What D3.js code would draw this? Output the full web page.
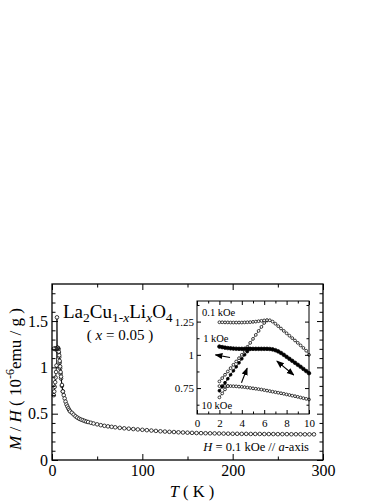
<!DOCTYPE html>
<html>
<head>
<meta charset="utf-8">
<script src="https://cdn.jsdelivr.net/npm/d3@7"></script>
<style>
  body { margin: 0; background: #fff; }
  svg text { font-family: "Liberation Serif", "DejaVu Serif", serif; fill: #000; }
</style>
</head>
<body>
<div id="chart"></div>
<script>
// main panel, H = 0.1 kOe, ZFC warming
var mainT = [2, 2.5, 3, 3.5, 4, 4.5, 5, 5.5, 6, 6.5, 7, 7.5, 8, 8.5, 9, 9.5, 10, 11, 12, 13, 14, 15, 16, 17, 18, 19, 20,
  22, 24, 26, 28, 30, 32, 34, 36, 38, 40, 43, 46, 50, 54, 58, 62, 66, 70, 75, 80, 85, 90, 95, 100, 105, 110, 115, 120,
  125, 130, 135, 140, 145, 150, 155, 160, 165, 170, 175, 180, 185, 190, 195, 200, 205, 210, 215, 220, 225, 230, 235,
  240, 245, 250, 255, 260, 265, 270, 275, 280, 285, 290];
var mainMH = [0.70, 0.74, 0.79, 0.84, 0.89, 0.95, 1.02, 1.54, 1.18, 1.21, 1.20, 1.16, 1.11, 1.05, 0.99, 0.93, 0.88, 0.80,
  0.74, 0.70, 0.665, 0.63, 0.60, 0.578, 0.558, 0.541, 0.525,
  0.51, 0.49, 0.472, 0.458, 0.446, 0.437, 0.43, 0.422, 0.415, 0.41, 0.402, 0.394, 0.385, 0.376, 0.369, 0.363, 0.358,
  0.353, 0.347, 0.342, 0.338, 0.334, 0.330, 0.326, 0.322, 0.318, 0.314, 0.31, 0.307, 0.304, 0.302, 0.299, 0.297,
  0.295, 0.293, 0.291, 0.290, 0.289, 0.288, 0.287, 0.286, 0.285, 0.284, 0.283, 0.283, 0.282, 0.282, 0.281, 0.281,
  0.281, 0.280, 0.280, 0.280, 0.279, 0.279, 0.279, 0.278, 0.278, 0.278, 0.277, 0.277, 0.277];
// main panel, field cooled branch below 12 K
var mainFcT = [12, 11, 10, 9.5, 9, 8.5, 8, 7.5, 7, 6.5, 6, 5.5, 5, 4.5, 4, 3.5, 3, 2.5, 2];
var mainFcMH = [0.74, 0.81, 0.90, 0.95, 1.01, 1.07, 1.13, 1.17, 1.20, 1.21, 1.21, 1.20, 1.20, 1.20, 1.20, 1.20, 1.20, 1.20, 1.20];

// inset temperatures
var insetT = [2, 2.25, 2.5, 2.75, 3, 3.25, 3.5, 3.75, 4, 4.25, 4.5, 4.75, 5, 5.25, 5.5, 5.75, 6, 6.25, 6.5, 6.75,
  7, 7.25, 7.5, 7.75, 8, 8.25, 8.5, 8.75, 9, 9.25, 9.5, 9.75, 10];
var fc01 = [1.245, 1.245, 1.244, 1.244, 1.243, 1.243, 1.243, 1.243, 1.243, 1.244, 1.245, 1.246, 1.248, 1.25, 1.253,
  1.256, 1.259, 1.261, 1.26, 1.25, 1.234, 1.216, 1.198, 1.18, 1.162, 1.144, 1.126, 1.108, 1.09, 1.071, 1.052, 1.031, 1.0];
var fc1 = [1.062, 1.058, 1.054, 1.051, 1.049, 1.047, 1.046, 1.045, 1.045, 1.045, 1.045, 1.045, 1.045, 1.045, 1.045,
  1.045, 1.045, 1.045, 1.044, 1.041, 1.035, 1.026, 1.014, 1.0, 0.985, 0.97, 0.955, 0.94, 0.925, 0.91, 0.894, 0.878, 0.862];
var fc10 = [0.765, 0.766, 0.766, 0.766, 0.765, 0.764, 0.763, 0.761, 0.759, 0.757, 0.754, 0.751, 0.748, 0.745, 0.742,
  0.739, 0.735, 0.731, 0.727, 0.723, 0.719, 0.715, 0.711, 0.707, 0.702, 0.698, 0.693, 0.689, 0.684, 0.679, 0.674, 0.669, 0.664];
var zfc01T = [2, 2.25, 2.5, 2.75, 3, 3.25, 3.5, 3.75, 4, 4.25, 4.5, 4.75, 5, 5.25, 5.5, 5.75, 6, 6.25];
var zfc01 = [0.80, 0.825, 0.85, 0.875, 0.90, 0.925, 0.95, 0.975, 1.0, 1.03, 1.06, 1.09, 1.12, 1.15, 1.18, 1.21, 1.24, 1.258];
var zfc1T = [2, 2.25, 2.5, 2.75, 3, 3.25, 3.5, 3.75, 4, 4.25, 4.5, 4.75];
var zfc1 = [0.73, 0.76, 0.79, 0.82, 0.85, 0.88, 0.91, 0.94, 0.97, 1.0, 1.025, 1.045];
var zfc10T = [2, 2.25, 2.5, 2.75];
var zfc10 = [0.68, 0.71, 0.74, 0.765];

var fieldLabels = ["0.1 kOe", "1 kOe", "10 kOe"];
var fieldLabelPos = [[0.45, 1.29], [0.55, 1.095], [0.4, 0.595]];   // inset data coords
// arrows in inset data coords: [T1, MH1, T2, MH2, double?]
var insetArrows = [[2.95, 0.98, 1.65, 1.0, 0], [3.97, 0.79, 4.48, 0.9, 0], [7.13, 0.953, 8.64, 0.848, 1]];

var mainXTicks = [0, 100, 200, 300];
var mainXMinor = [50, 150, 250];
var mainYTicks = [0, 0.5, 1, 1.5];
var mainYMinor = [0.1, 0.2, 0.3, 0.4, 0.6, 0.7, 0.8, 0.9, 1.1, 1.2, 1.3, 1.4, 1.6, 1.7, 1.8];
var insetXTicks = [0, 2, 4, 6, 8, 10];
var insetXMinor = [1, 3, 5, 7, 9];
var insetYTicks = [0.75, 1, 1.25];
var insetYMinor = [0.625, 0.875, 1.125, 1.375];

var myChart = {};
(function(context) {

  var svg;

  function zip(a, b) {
    return a.map(function(v, i) { return [v, b[i]]; });
  }

  function styleAxis(g, size) {
    g.attr("font-family", null).attr("font-size", size);
    g.select(".domain").remove();
    g.selectAll("line").attr("stroke", "#000").attr("stroke-width", 1);
  }

  function frameAxes(x, y, major, minor, majY, minY, lenMaj, lenMin, fsize, labels, fmtY) {
    var x0 = x.range()[0], x1 = x.range()[1], y0 = y.range()[0], y1 = y.range()[1];
    // bottom
    svg.append("g").attr("transform", "translate(0," + y0 + ")")
      .call(d3.axisBottom(x).tickValues(major).tickSize(-lenMaj).tickPadding(labels.xpad))
      .call(styleAxis, fsize);
    svg.append("g").attr("transform", "translate(0," + y0 + ")")
      .call(d3.axisBottom(x).tickValues(minor).tickSize(-lenMin).tickFormat(""))
      .call(styleAxis, fsize);
    // top
    svg.append("g").attr("transform", "translate(0," + y1 + ")")
      .call(d3.axisTop(x).tickValues(major).tickSize(-lenMaj).tickFormat(""))
      .call(styleAxis, fsize);
    svg.append("g").attr("transform", "translate(0," + y1 + ")")
      .call(d3.axisTop(x).tickValues(minor).tickSize(-lenMin).tickFormat(""))
      .call(styleAxis, fsize);
    // left
    svg.append("g").attr("transform", "translate(" + x0 + ",0)")
      .call(d3.axisLeft(y).tickValues(majY).tickSize(-lenMaj).tickPadding(labels.ypad).tickFormat(fmtY))
      .call(styleAxis, fsize);
    svg.append("g").attr("transform", "translate(" + x0 + ",0)")
      .call(d3.axisLeft(y).tickValues(minY).tickSize(-lenMin).tickFormat(""))
      .call(styleAxis, fsize);
    // right
    svg.append("g").attr("transform", "translate(" + x1 + ",0)")
      .call(d3.axisRight(y).tickValues(majY).tickSize(-lenMaj).tickFormat(""))
      .call(styleAxis, fsize);
    svg.append("g").attr("transform", "translate(" + x1 + ",0)")
      .call(d3.axisRight(y).tickValues(minY).tickSize(-lenMin).tickFormat(""))
      .call(styleAxis, fsize);
  }

  function drawSeries(x, y, pts, r, filled, lw) {
    var line = d3.line().x(function(d) { return x(d[0]); }).y(function(d) { return y(d[1]); });
    svg.append("path").datum(pts)
      .attr("d", line).attr("fill", "none").attr("stroke", "#000").attr("stroke-width", lw);
    svg.append("g").selectAll("circle").data(pts).enter().append("circle")
      .attr("cx", function(d) { return x(d[0]); })
      .attr("cy", function(d) { return y(d[1]); })
      .attr("r", r)
      .attr("fill", filled ? "#000" : "#fff")
      .attr("stroke", "#000").attr("stroke-width", 0.75);
  }

  context.draw = function(name) {

    svg = d3.select(name).append("svg").attr("width", 388).attr("height", 502)
      .attr("font-family", "Liberation Serif, serif");

    var x = d3.scaleLinear().domain([0, 300]).range([52, 323]);
    var y = d3.scaleLinear().domain([0, 1.9]).range([460, 284]);

    drawSeries(x, y, zip(mainT, mainMH), 1.8, false, 0.8);
    drawSeries(x, y, zip(mainFcT, mainFcMH), 1.8, false, 0.8);

    frameAxes(x, y, mainXTicks, mainXMinor, mainYTicks, mainYMinor, 6, 3.5, 16,
      { xpad: 5, ypad: 4 }, function(d) { return d3.format("")(d); });

    svg.append("rect").attr("x", 52).attr("y", 284).attr("width", 271).attr("height", 176)
      .attr("fill", "none").attr("stroke", "#000").attr("stroke-width", 1.3);

    // inset
    var ix = d3.scaleLinear().domain([0, 10]).range([197, 309]);
    var iy = d3.scaleLinear().domain([0.555, 1.405]).range([414, 301]);

    svg.append("rect").attr("x", 197).attr("y", 301).attr("width", 112).attr("height", 113).attr("fill", "#fff");

    drawSeries(ix, iy, zip(insetT, fc10), 1.4, false, 0.6);
    drawSeries(ix, iy, zip(zfc10T, zfc10), 1.4, false, 0.6);
    drawSeries(ix, iy, zip(zfc01T, zfc01), 1.4, false, 0.6);
    drawSeries(ix, iy, zip(insetT, fc01), 1.4, false, 0.6);
    drawSeries(ix, iy, zip(zfc1T, zfc1), 1.4, true, 0.8);
    drawSeries(ix, iy, zip(insetT, fc1), 1.8, true, 1.2);

    frameAxes(ix, iy, insetXTicks, insetXMinor, insetYTicks, insetYMinor, 4, 2.5, 11,
      { xpad: 5, ypad: 3 }, function(d) { return String(d); });

    svg.append("rect").attr("x", 197).attr("y", 301).attr("width", 112).attr("height", 113)
      .attr("fill", "none").attr("stroke", "#000").attr("stroke-width", 1);

    svg.selectAll(".fieldlab").data(fieldLabels).enter().append("text")
      .attr("x", function(d, i) { return ix(fieldLabelPos[i][0]); })
      .attr("y", function(d, i) { return iy(fieldLabelPos[i][1]); })
      .attr("font-size", 10.5)
      .text(function(d) { return d; });

    // arrows
    var defs = svg.append("defs");
    defs.append("marker").attr("id", "ah").attr("viewBox", "0 0 10 10")
      .attr("refX", 9).attr("refY", 5).attr("markerWidth", 7).attr("markerHeight", 7)
      .attr("orient", "auto-start-reverse")
      .append("path").attr("d", "M0,1 L10,5 L0,9 Z").attr("fill", "#000");
    svg.selectAll(".arrow").data(insetArrows).enter().append("line")
      .attr("x1", function(d) { return ix(d[0]); })
      .attr("y1", function(d) { return iy(d[1]); })
      .attr("x2", function(d) { return ix(d[2]); })
      .attr("y2", function(d) { return iy(d[3]); })
      .attr("stroke", "#000").attr("stroke-width", 1.1)
      .attr("marker-end", "url(#ah)")
      .attr("marker-start", function(d) { return d[4] ? "url(#ah)" : null; });

    // formula
    var f = svg.append("text").attr("x", 63).attr("y", 318).attr("font-size", 19);
    f.append("tspan").text("La");
    f.append("tspan").attr("font-size", 13.5).attr("dy", 4).text("2");
    f.append("tspan").attr("dy", -4).text("Cu");
    f.append("tspan").attr("font-size", 13.5).attr("dy", 4).text("1-");
    f.append("tspan").attr("font-size", 13.5).attr("font-style", "italic").text("x");
    f.append("tspan").attr("dy", -4).text("Li");
    f.append("tspan").attr("font-size", 13.5).attr("font-style", "italic").attr("dy", 4).text("x");
    f.append("tspan").attr("dy", -4).text("O");
    f.append("tspan").attr("font-size", 13.5).attr("dy", 4).text("4");

    var c = svg.append("text").attr("x", 120).attr("y", 340).attr("font-size", 15).attr("text-anchor", "middle");
    c.append("tspan").text("( ");
    c.append("tspan").attr("font-style", "italic").text("x");
    c.append("tspan").text(" = 0.05 )");

    var h = svg.append("text").attr("x", 309).attr("y", 451).attr("font-size", 12.5).attr("text-anchor", "end");
    h.append("tspan").attr("font-style", "italic").text("H");
    h.append("tspan").text(" = 0.1 kOe // ");
    h.append("tspan").attr("font-style", "italic").text("a");
    h.append("tspan").text("-axis");

    // axis titles
    var xt = svg.append("text").attr("x", 192).attr("y", 497).attr("font-size", 16.5).attr("text-anchor", "middle");
    xt.append("tspan").attr("font-style", "italic").text("T");
    xt.append("tspan").text(" ( K )");

    var yt = svg.append("text").attr("transform", "translate(21,379) rotate(-90)")
      .attr("font-size", 17).attr("text-anchor", "middle");
    yt.append("tspan").attr("font-style", "italic").text("M");
    yt.append("tspan").text(" / ");
    yt.append("tspan").attr("font-style", "italic").text("H");
    yt.append("tspan").text(" ( 10");
    yt.append("tspan").attr("font-size", 12).attr("dy", -7).text("-6");
    yt.append("tspan").attr("dy", 7).text("emu / g )");
  }

})(myChart);

myChart.draw("#chart");
</script>
</body>
</html>
